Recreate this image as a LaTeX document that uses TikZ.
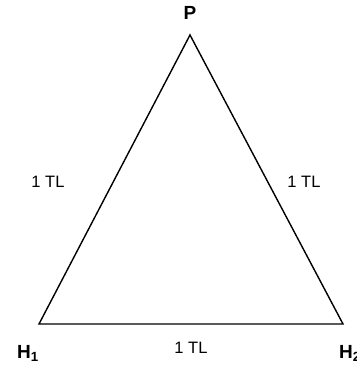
\documentclass[tikz,border=0pt]{standalone}
\usepackage{fontspec}
\setmainfont{Liberation Sans}
\begin{document}
\begin{tikzpicture}[x=1pt,y=-1pt,
  lbl/.style={font=\fontsize{16.5}{19}\selectfont, inner sep=0pt},
  vlbl/.style={font=\bfseries\fontsize{19}{22}\selectfont, inner sep=0pt}]
\useasboundingbox (0,0) rectangle (356,371);
\coordinate (P) at (190,35);
\coordinate (H1) at (39,324);
\coordinate (H2) at (343,324);
\draw[line width=1.4pt, line join=miter] (P) -- (H1) -- (H2) -- cycle;
\node[vlbl] (lp) at (190,13) {P};
\node[vlbl, anchor=base west] (lh1) at (17,358) {H$_{\mathbf{1}}$};
\node[vlbl, anchor=base west] (lh2) at (339,358) {H$_{\mathbf{2}}$};
\node[lbl] (tl1) at (48,182) {1 TL};
\node[lbl] (tl2) at (304,182) {1 TL};
\node[lbl] (tl3) at (191,348) {1 TL};
\end{tikzpicture}
\end{document}
